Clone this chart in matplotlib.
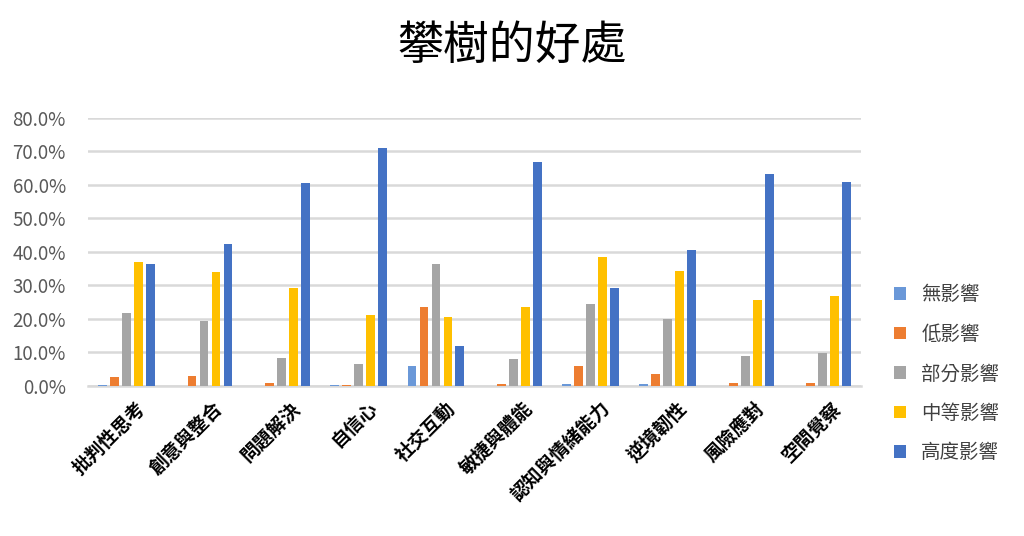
import numpy as np
import matplotlib.pyplot as plt
from matplotlib.ticker import PercentFormatter

plt.rcParams['font.family'] = ['Noto Sans CJK TC', 'DejaVu Sans']

categories = ['批判性思考', '創意與整合', '問題解決', '自信心', '社交互動',
              '敏捷與體能', '認知與情緒能力', '逆境韌性', '風險應對', '空間覺察']
series = ['無影響', '低影響', '部分影響', '中等影響', '高度影響']

none_vals = [0.3, 0.0, 0.0, 0.3, 6.0, 0.0, 0.7, 0.5, 0.0, 0.0]
low_vals = [2.8, 3.1, 0.8, 0.4, 23.7, 0.5, 5.8, 3.5, 0.8, 0.8]
part_vals = [21.9, 19.4, 8.3, 6.5, 36.4, 8.1, 24.4, 19.9, 9.0, 9.8]
mid_vals = [37.1, 33.9, 29.2, 21.2, 20.5, 23.7, 38.6, 34.3, 25.7, 26.9]
high_vals = [36.4, 42.3, 60.7, 70.9, 11.9, 66.8, 29.3, 40.6, 63.2, 61.0]

colors = ['#6a98d8', '#ed7d31', '#a5a5a5', '#ffc000', '#4472c4']

fig = plt.figure(figsize=(10.24, 5.36), dpi=100)
ax = fig.add_axes([0.086, 0.280, 0.755, 0.500])

x = np.arange(len(categories))
step = 0.155
width = 0.115
all_vals = [none_vals, low_vals, part_vals, mid_vals, high_vals]
for i, (name, vals) in enumerate(zip(series, all_vals)):
    ax.bar(x + (i - 2) * step, np.array(vals) / 100, width=width,
           color=colors[i], label=name, zorder=3)

ax.set_xlim(-0.5, len(categories) - 0.5)
ax.set_ylim(0, 0.8)
ax.set_yticks(np.arange(0, 0.81, 0.1))
ax.yaxis.set_major_formatter(PercentFormatter(1.0, decimals=1))
ax.grid(axis='y', color='#d9d9d9', linewidth=1.8, zorder=0)
for s in ['top', 'right', 'left']:
    ax.spines[s].set_visible(False)
ax.spines['bottom'].set_color('#d9d9d9')
ax.spines['bottom'].set_linewidth(1.8)
ax.tick_params(axis='y', length=0, labelsize=13.5, labelcolor='#595959', pad=16)
ax.tick_params(axis='x', length=0, pad=9)
ax.set_xticks(x + 0.12)
ax.set_xticklabels(categories, rotation=45, ha='right', rotation_mode='anchor',
                   fontsize=13.5, fontweight='bold', color='black')

fig.suptitle('攀樹的好處', x=0.5, y=0.96, fontsize=33, color='black')

ax.legend(loc='center left', bbox_to_anchor=(1.02, 0.045), frameon=False,
          fontsize=14, labelcolor='#404040', handlelength=0.6,
          handleheight=0.6, labelspacing=0.95, handletextpad=0.8)

fig.savefig('out.png', dpi=100, facecolor='white')
